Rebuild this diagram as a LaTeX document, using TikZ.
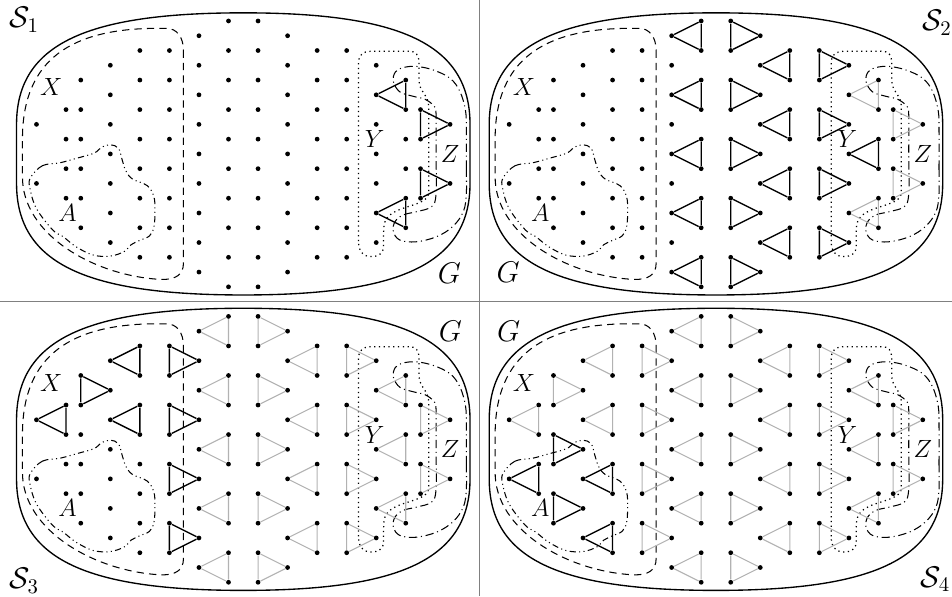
\documentclass[tikz,border=0pt]{standalone}
\usetikzlibrary{calc}
\tikzset{
  dot/.style={circle,fill=black,inner sep=0pt,minimum size=2.3pt},
  blkedge/.style={black,line width=0.65pt},
  gryedge/.style={black!30,line width=0.5pt},
  regionG/.style={black,line width=0.65pt},
  regionX/.style={black,line width=0.5pt,dash pattern=on 3.5pt off 2.5pt},
  regionA/.style={black,line width=0.5pt,dash pattern=on 3pt off 1.6pt on 0.5pt off 1.6pt on 0.5pt off 1.6pt},
  regionY/.style={black,line width=0.6pt,dash pattern=on 0.6pt off 1.7pt},
  regionZ/.style={black,line width=0.5pt,dash pattern=on 4pt off 1.8pt on 0.5pt off 1.8pt},
  setlabel/.style={inner sep=0pt,font=\large},
  glabel/.style={inner sep=0pt,font=\Large,anchor=base},
  slabel/.style={inner sep=0pt,font=\Large},
  divider/.style={black!50,line width=0.75pt},
}
\newcommand{\panelregions}[1]{%
  \draw[regionG] (-12.35,9) -- (-12.35,7) .. controls (-12.35,1.5) and (-7.5,-0.55) .. (3,-0.55)
    .. controls (13.5,-0.55) and (18.35,1.5) .. (18.35,7) -- (18.35,11)
    .. controls (18.35,16.5) and (13.5,18.55) .. (3,18.55)
    .. controls (-7.5,18.55) and (-12.35,16.5) .. (-12.35,11) -- cycle;
  \draw[regionX] (-1.05,2) -- (-1.05,16.4) .. controls (-1.05,17.2) and (-1.6,17.5) .. (-2.5,17.5)
    .. controls (-7,17.3) and (-12,14.5) .. (-11.95,10.5) -- (-11.95,8)
    .. controls (-11.95,2.5) and (-8.5,0.55) .. (-3,0.5) -- (-2.2,0.5)
    .. controls (-1.5,0.5) and (-1.05,1.1) .. (-1.05,2) -- cycle;
  \draw[regionA] plot[smooth cycle,tension=0.6] coordinates {(-11.4,10.6) (-10.6,9.8) (-9.4,9.6)
    (-8.3,9.3) (-7.1,8.95) (-6.6,8.55) (-6.0,8.38) (-5.45,8.62) (-5.2,9.4) (-4.95,10.15)
    (-4.5,10.7) (-3.5,11.15) (-3.05,11.9) (-2.98,12.9) (-3.05,13.95) (-3.35,14.55) (-4.0,14.85)
    (-4.6,15.15) (-5.05,15.6) (-6.0,15.92) (-7.15,15.85) (-8.3,15.3) (-9.2,14.6) (-9.9,14.15)
    (-11.0,12.7) (-11.45,11.3)};
  \draw[regionY] (10.8,14.9) -- (10.8,2.9) .. controls (10.8,2.35) and (11.05,2.05) .. (11.7,2.05)
    -- (14.2,2.05) .. controls (14.7,2.05) and (14.9,2.3) .. (14.9,2.9) -- (14.9,4.0)
    .. controls (14.9,4.8) and (15.55,5.0) .. (15.55,5.8) -- (15.55,11.6)
    .. controls (15.55,12.3) and (14.5,12.4) .. (13.5,12.8)
    .. controls (12.6,13.2) and (12.5,13.6) .. (12.5,14.3) -- (12.5,15.2)
    .. controls (12.5,15.75) and (12.15,15.95) .. (11.65,15.95)
    .. controls (11.1,15.95) and (10.8,15.6) .. (10.8,14.9) -- cycle;
  \draw[regionZ] plot[smooth cycle,tension=0.6] coordinates {(18.1,7.5) (18.1,10) (18.1,11.7)
    (17.9,12.9) (17.2,13.9) (16.1,14.6) (14.7,14.95) (13.6,14.83) (13.16,14.26) (13.27,13.59)
    (13.83,13.13) (14.74,12.91) (15.75,12.57) (16.05,11.7) (16.05,9) (16.05,6.3) (15.9,5.75)
    (15.3,5.3) (14.5,5.1) (13.6,4.8) (13.16,4.1) (13.3,3.45) (13.85,3.15) (14.74,3.08)
    (15.86,3.32) (17.0,3.88) (17.67,4.78) (18.05,6.1)};
  \node[setlabel] (X#1) at (-10.0,4.5) {$X$};
  \node[setlabel] (A#1) at (-8.9,13.0) {$A$};
  \node[setlabel] (Y#1) at (11.9,8.0) {$Y$};
  \node[setlabel] (Z#1) at (17.0,9.0) {$Z$};
}
\begin{document}
\begin{tikzpicture}[x=0.25cm,y=-0.25cm]
\useasboundingbox (-13.47,-1.42) rectangle (50.98,38.93);
% regions of the four panels
\begin{scope}\panelregions{1}\end{scope}
\begin{scope}[shift={(32,0)}]\panelregions{2}\end{scope}
\begin{scope}[shift={(0,20)}]\panelregions{3}\end{scope}
\begin{scope}[shift={(32,20)}]\panelregions{4}\end{scope}
% triangles: apex column / apex row / column of the vertical side / state in S1..S4 (0 none, 1 grey, 2 black)
\foreach \ac/\k/\vc/\sa/\sb/\sc/\sd [count=\i] in {
  0/1/2/0/2/1/1, 0/5/2/0/2/1/1, 0/9/2/0/2/1/1, 0/13/2/0/2/1/1, 0/17/2/0/2/1/1,
  6/1/4/0/2/1/1, 6/5/4/0/2/1/1, 6/9/4/0/2/1/1, 6/13/4/0/2/1/1, 6/17/4/0/2/1/1,
  6/3/8/0/2/1/1, 6/7/8/0/2/1/1, 6/11/8/0/2/1/1, 6/15/8/0/2/1/1,
  12/3/10/0/2/1/1, 12/7/10/0/2/1/1, 12/11/10/0/2/1/1, 12/15/10/0/2/1/1,
  12/5/14/2/1/1/1, 12/9/14/0/2/1/1, 12/13/14/2/1/1/1,
  17/7/15/2/1/1/1, 17/11/15/2/1/1/1,
  0/3/-2/0/0/2/1, 0/7/-2/0/0/2/1, 0/11/-2/0/0/2/1, 0/15/-2/0/0/2/1,
  -6/3/-4/0/0/2/1, -6/7/-4/0/0/2/1, -6/11/-4/0/0/0/2, -6/15/-4/0/0/0/2,
  -6/5/-8/0/0/2/1, -6/9/-8/0/0/0/2, -6/13/-8/0/0/0/2,
  -11/7/-9/0/0/2/1, -11/11/-9/0/0/0/2}{
  \foreach \p/\s/\dx/\dy in {1/\sa/0/0,2/\sb/32/0,3/\sc/0/20,4/\sd/32/20}{
    \node[dot] (d\p-\i-a) at (\ac+\dx,\k+\dy) {};
    \node[dot] (d\p-\i-u) at (\vc+\dx,\k-1+\dy) {};
    \node[dot] (d\p-\i-l) at (\vc+\dx,\k+1+\dy) {};
    \ifcase\s\relax
    \or \draw[gryedge] (d\p-\i-a) -- (d\p-\i-u) -- (d\p-\i-l) -- (d\p-\i-a);
    \or \draw[blkedge] (d\p-\i-a) -- (d\p-\i-u) -- (d\p-\i-l) -- (d\p-\i-a);
    \fi
  }
}
% panel names and G labels
\node[slabel,anchor=base west] (s1) at (-12.85,0.45) {$\mathcal{S}_1$};
\node[slabel,anchor=base east] (s2) at (51.0,0.65) {$\mathcal{S}_2$};
\node[slabel,anchor=base west] (s3) at (-12.85,38.45) {$\mathcal{S}_3$};
\node[slabel,anchor=base east] (s4) at (50.9,38.35) {$\mathcal{S}_4$};
\node[glabel] (g1) at (16.96,17.74) {$G$};
\node[glabel] (g2) at (20.94,17.72) {$G$};
\node[glabel] (g3) at (17.03,21.69) {$G$};
\node[glabel] (g4) at (20.96,21.69) {$G$};
% dividing lines
\coordinate (vt) at (19,-1.42); \coordinate (vb) at (19,38.93);
\coordinate (hl) at (-13.47,19); \coordinate (hr) at (50.98,19);
\draw[divider] (vt) -- (vb);
\draw[divider] (hl) -- (hr);
\end{tikzpicture}
\end{document}
